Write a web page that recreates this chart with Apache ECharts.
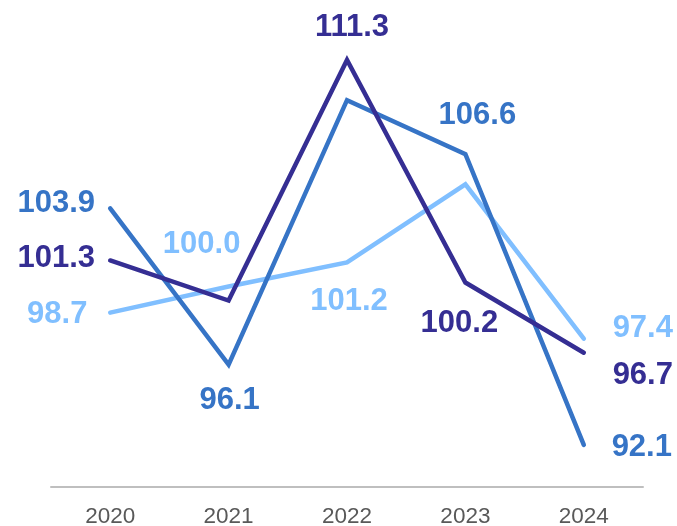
<!DOCTYPE html>
<html>
<head>
<meta charset="utf-8">
<script src="https://cdn.jsdelivr.net/npm/echarts@6/dist/echarts.min.js"></script>
<style>
html,body{margin:0;padding:0;background:#fff;}
#c{width:677px;height:526px;}
</style>
</head>
<body>
<div id="c"></div>
<script>
// Data
var categories = ['2020', '2021', '2022', '2023', '2024'];
var lightValues  = [98.7, 100.0, 101.2, 105.1, 97.4];
var mediumValues = [103.9, 96.1, 109.3, 106.6, 92.1];
var darkValues   = [101.3, 99.3, 111.3, 100.2, 96.7];
// Which points carry a value label (true) – the others are unlabeled in the source
var lightLabeled  = [true, true, true, false, true];
var mediumLabeled = [true, true, false, true, true];
var darkLabeled   = [true, false, true, true, true];

// Label placement (pixel offsets from point) – styling, not data
var lightOffsets  = [[-53, 2], [-27, -42], [2, 39], null, [59, -10]];
var mediumOffsets = [[-54, -5], [1, 36], null, [12, -39], [58, 3]];
var darkOffsets   = [[-54, -2], null, [5, -33], [-6, 41], [59, 23]];

var COLORS = { light: '#80bfff', medium: '#3674c6', dark: '#352e93' };

function buildData(values, labeled, offsets, color) {
  return values.map(function (v, i) {
    var item = { value: v };
    if (labeled[i]) {
      item.label = {
        show: true,
        position: 'inside',
        offset: offsets[i],
        color: color,
        fontSize: 31,
        fontWeight: 'bold',
        fontFamily: '"Liberation Sans", Arial, sans-serif',
        formatter: function (p) { return p.value.toFixed(1); }
      };
    } else {
      item.label = { show: false };
    }
    return item;
  });
}

function makeSeries(name, values, labeled, offsets, color, z) {
  return {
    name: name,
    type: 'line',
    z: z,
    data: buildData(values, labeled, offsets, color),
    symbol: 'circle',
    symbolSize: 1,
    showSymbol: true,
    itemStyle: { color: color },
    lineStyle: { color: color, width: 4.5, cap: 'round', join: 'miter' },
    emphasis: { disabled: true },
    animation: false
  };
}

var chart = echarts.init(document.getElementById('c'), null, { renderer: 'canvas' });
chart.setOption({
  backgroundColor: '#ffffff',
  animation: false,
  grid: { left: 51, right: 34, top: 46, bottom: 39, containLabel: false, outerBoundsMode: 'none' },
  xAxis: {
    type: 'category',
    data: categories,
    boundaryGap: true,
    axisTick: { show: false },
    axisLine: { show: true, lineStyle: { color: '#bfbfbf', width: 2 } },
    axisLabel: {
      color: '#595959',
      fontSize: 22.5,
      margin: 18,
      fontFamily: '"Liberation Sans", Arial, sans-serif'
    },
    splitLine: { show: false }
  },
  yAxis: {
    type: 'value',
    min: 90,
    max: 112,
    show: false,
    splitLine: { show: false }
  },
  series: [
    makeSeries('light', lightValues, lightLabeled, lightOffsets, COLORS.light, 2),
    makeSeries('medium', mediumValues, mediumLabeled, mediumOffsets, COLORS.medium, 3),
    makeSeries('dark', darkValues, darkLabeled, darkOffsets, COLORS.dark, 4)
  ]
});
</script>
</body>
</html>
